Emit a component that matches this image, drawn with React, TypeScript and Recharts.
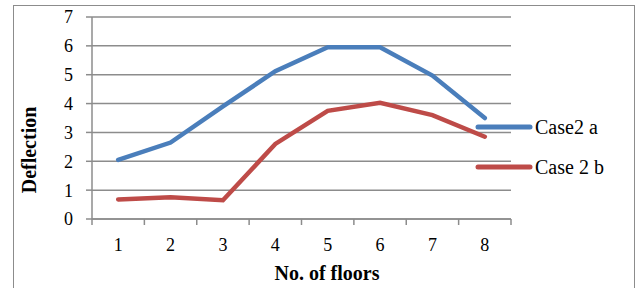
import React from 'react';
import { LineChart, Line, XAxis, YAxis, CartesianGrid, Legend } from 'recharts';

const floors = [1, 2, 3, 4, 5, 6, 7, 8];
const case2a = [2.05, 2.65, 3.9, 5.12, 5.95, 5.95, 4.97, 3.5];
const case2b = [0.68, 0.75, 0.65, 2.6, 3.75, 4.03, 3.6, 2.85];
const seriesNames = ['Case2 a', 'Case 2 b'];
const yTicks = [0, 1, 2, 3, 4, 5, 6, 7];
// category boundaries (tick marks) and category centres (labels)
const xTicks = [0.5, 1, 1.5, 2, 2.5, 3, 3.5, 4, 4.5, 5, 5.5, 6, 6.5, 7, 7.5, 8, 8.5];

const data = floors.map((f, i) => ({ floor: f, a: case2a[i], b: case2b[i] }));

const GRID = '#8c8c8c';
const BLUE = '#4a7ebb';
const RED = '#be4b48';
const FONT = '"Liberation Serif", "Times New Roman", serif';

const XTick = ({ x, y, payload }: any) => {
  const v = payload.value;
  if (Number.isInteger(v)) {
    return (
      <text x={x} y={y + 32} textAnchor="middle" fontSize={18} fontFamily={FONT} fill="#000">
        {v}
      </text>
    );
  }
  return <line x1={x} y1={y} x2={x} y2={y + 6} stroke={GRID} strokeWidth={1.5} />;
};

const LegendContent = ({ payload }: any) => {
  const items = [...(payload || [])].sort(
    (p: any, q: any) => seriesNames.indexOf(p.value) - seriesNames.indexOf(q.value)
  );
  return (
    <div style={{ position: 'absolute', left: 0, top: 0, whiteSpace: 'nowrap' }}>
      {items.map((p: any) => (
        <div key={p.value} style={{ display: 'flex', alignItems: 'center', height: 40 }}>
          <svg width={58} height={10}>
            <line x1={3} y1={5} x2={55} y2={5} stroke={p.color} strokeWidth={5} strokeLinecap="round" />
          </svg>
          <span style={{ fontFamily: FONT, fontSize: 20, color: '#000', marginLeft: 2 }}>{p.value}</span>
        </div>
      ))}
    </div>
  );
};

export default function App() {
  return (
    <div style={{ position: 'absolute', left: 0, top: 0, width: 640, height: 288, overflow: 'hidden', background: '#fff' }}>
      <div
        style={{
          position: 'absolute',
          left: 13,
          top: 5,
          width: 622,
          height: 300,
          border: '1.5px solid #8c8c8c',
          boxSizing: 'border-box',
        }}
      />
      <div style={{ position: 'absolute', left: 0, top: 0 }}>
        <LineChart width={640} height={288} data={data} margin={{ top: 17, right: 129, bottom: 0, left: 0 }}>
          <CartesianGrid horizontal vertical={false} stroke={GRID} strokeWidth={1.5} />
          <XAxis
            dataKey="floor"
            type="number"
            domain={[0.5, 8.5]}
            ticks={xTicks}
            interval={0}
            height={69}
            tickLine={false}
            tickSize={0}
            tickMargin={0}
            tick={<XTick />}
            axisLine={{ stroke: GRID, strokeWidth: 1.5 }}
            label={() => (
              <text x={327} y={280} textAnchor="middle" fontSize={20} fontWeight="bold" fontFamily={FONT} fill="#000">
                No. of floors
              </text>
            )}
          />
          <YAxis
            domain={[0, 7]}
            ticks={yTicks}
            interval={0}
            width={92}
            tickSize={6}
            tickMargin={13}
            tickLine={{ stroke: GRID, strokeWidth: 1.5 }}
            axisLine={{ stroke: GRID, strokeWidth: 1.5 }}
            tick={{ fontSize: 18, fontFamily: FONT, fill: '#000' }}
            label={() => (
              <text
                x={0}
                y={0}
                transform="translate(36,150) rotate(-90)"
                textAnchor="middle"
                fontSize={20}
                fontWeight="bold"
                fontFamily={FONT}
                fill="#000"
              >
                Deflection
              </text>
            )}
          />
          <Legend
            layout="vertical"
            verticalAlign="top"
            align="left"
            content={<LegendContent />}
            wrapperStyle={{ position: 'absolute', left: 475, top: 107, width: 0, height: 0, overflow: 'visible' }}
          />
          <Line
            type="linear"
            dataKey="a"
            name="Case2 a"
            stroke={BLUE}
            strokeWidth={4.5}
            strokeLinecap="round"
            dot={false}
            activeDot={false}
            isAnimationActive={false}
          />
          <Line
            type="linear"
            dataKey="b"
            name="Case 2 b"
            stroke={RED}
            strokeWidth={4.5}
            strokeLinecap="round"
            dot={false}
            activeDot={false}
            isAnimationActive={false}
          />
        </LineChart>
      </div>
    </div>
  );
}
